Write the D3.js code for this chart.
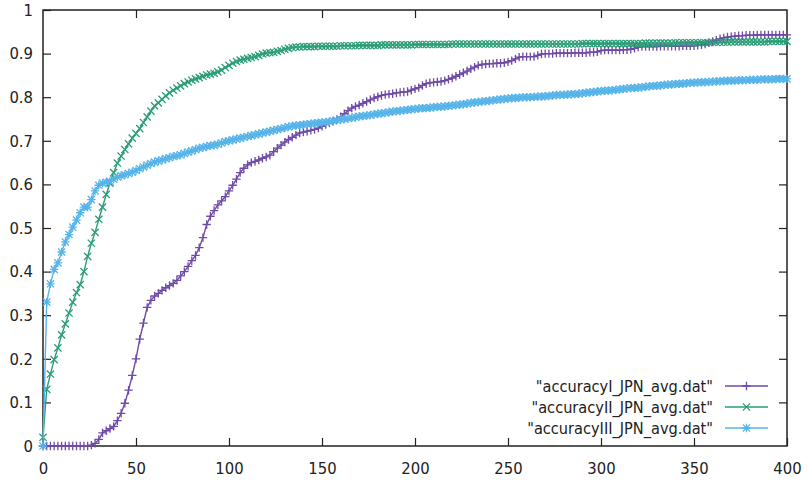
<!DOCTYPE html>
<html>
<head>
<meta charset="utf-8">
<script src="https://cdn.jsdelivr.net/npm/d3@7"></script>
<style>
body { margin: 0; background: #fff; }
svg { display: block; }
text { font-family: "DejaVu Sans Condensed", "DejaVu Sans", sans-serif; font-stretch: condensed; fill: #222; }
</style>
</head>
<body>
<div id="chart"></div>
<script>
var w = 808,
    h = 482;

// epochs sampled every 2 steps
var steps = d3.range(0, 401, 2);

var accI = [
  0, 0, 0, 0, 0, 0, 0, 0, 0, 0,
  0, 0, 0, 0.002, 0.006, 0.015, 0.03, 0.035, 0.04, 0.045,
  0.058, 0.075, 0.098, 0.128, 0.162, 0.2, 0.245, 0.282, 0.318, 0.334,
  0.344, 0.35, 0.357, 0.363, 0.368, 0.373, 0.38, 0.39, 0.4, 0.412,
  0.425, 0.437, 0.455, 0.478, 0.508, 0.527, 0.54, 0.553, 0.562, 0.572,
  0.585, 0.598, 0.612, 0.627, 0.637, 0.645, 0.65, 0.653, 0.656, 0.66,
  0.663, 0.667, 0.675, 0.683, 0.69, 0.697, 0.703, 0.708, 0.713, 0.718,
  0.72, 0.722, 0.724, 0.726, 0.729, 0.733, 0.737, 0.741, 0.745, 0.749,
  0.755, 0.762, 0.769, 0.775, 0.779, 0.782, 0.786, 0.79, 0.794, 0.798,
  0.801, 0.804, 0.806, 0.807, 0.808, 0.81, 0.811, 0.812, 0.813, 0.816,
  0.819, 0.822, 0.827, 0.831, 0.833, 0.834, 0.835, 0.836, 0.838, 0.841,
  0.844, 0.848, 0.852, 0.856, 0.86, 0.865, 0.869, 0.873, 0.875, 0.876,
  0.877, 0.877, 0.878, 0.878, 0.879, 0.881, 0.884, 0.888, 0.892, 0.893,
  0.893, 0.893, 0.893, 0.896, 0.899, 0.9, 0.9, 0.9, 0.901, 0.901,
  0.901, 0.901, 0.901, 0.902, 0.902, 0.902, 0.902, 0.903, 0.903, 0.904,
  0.907, 0.908, 0.908, 0.908, 0.908, 0.908, 0.909, 0.909, 0.91, 0.912,
  0.915, 0.916, 0.916, 0.916, 0.916, 0.916, 0.917, 0.917, 0.917, 0.917,
  0.917, 0.917, 0.918, 0.918, 0.918, 0.918, 0.919, 0.92, 0.922, 0.925,
  0.928, 0.931, 0.934, 0.936, 0.938, 0.939, 0.94, 0.941, 0.941, 0.942,
  0.942, 0.942, 0.943, 0.943, 0.943, 0.943, 0.943, 0.943, 0.943, 0.943,
  0.943
];

var accII = [
  0.02, 0.13, 0.165, 0.198, 0.225, 0.255, 0.28, 0.305, 0.33, 0.352,
  0.37, 0.4, 0.435, 0.465, 0.49, 0.52, 0.548, 0.577, 0.603, 0.627,
  0.649, 0.665, 0.68, 0.693, 0.706, 0.717, 0.728, 0.742, 0.755, 0.768,
  0.78, 0.787, 0.795, 0.803, 0.81, 0.816, 0.821, 0.826, 0.831, 0.835,
  0.839, 0.842, 0.845, 0.848, 0.851, 0.853, 0.855, 0.858, 0.862, 0.868,
  0.873, 0.878, 0.882, 0.885, 0.887, 0.889, 0.891, 0.893, 0.896, 0.899,
  0.901, 0.902, 0.903, 0.905, 0.907, 0.91, 0.912, 0.914, 0.915, 0.915,
  0.916, 0.916, 0.916, 0.916, 0.917, 0.917, 0.917, 0.917, 0.917, 0.917,
  0.918, 0.918, 0.918, 0.918, 0.918, 0.919, 0.919, 0.919, 0.919, 0.919,
  0.919, 0.92, 0.92, 0.92, 0.92, 0.92, 0.92, 0.92, 0.92, 0.92,
  0.921, 0.921, 0.921, 0.921, 0.921, 0.921, 0.921, 0.921, 0.921, 0.921,
  0.922, 0.922, 0.922, 0.922, 0.922, 0.922, 0.922, 0.922, 0.922, 0.922,
  0.922, 0.922, 0.922, 0.922, 0.922, 0.922, 0.922, 0.922, 0.922, 0.922,
  0.922, 0.922, 0.922, 0.922, 0.922, 0.922, 0.922, 0.922, 0.922, 0.922,
  0.922, 0.922, 0.922, 0.922, 0.922, 0.923, 0.923, 0.923, 0.923, 0.923,
  0.923, 0.923, 0.923, 0.923, 0.923, 0.923, 0.923, 0.923, 0.923, 0.923,
  0.923, 0.923, 0.924, 0.924, 0.924, 0.924, 0.924, 0.924, 0.924, 0.924,
  0.925, 0.925, 0.925, 0.925, 0.925, 0.925, 0.925, 0.925, 0.925, 0.925,
  0.926, 0.926, 0.926, 0.926, 0.926, 0.927, 0.927, 0.927, 0.927, 0.927,
  0.927, 0.927, 0.927, 0.927, 0.927, 0.928, 0.928, 0.928, 0.928, 0.928,
  0.928
];

var accIII = [
  0, 0.33, 0.372, 0.405, 0.42, 0.445, 0.468, 0.485, 0.502, 0.518,
  0.535, 0.548, 0.548, 0.565, 0.585, 0.598, 0.603, 0.605, 0.607, 0.612,
  0.617, 0.62, 0.622, 0.625, 0.628, 0.632, 0.636, 0.64, 0.644, 0.648,
  0.651, 0.654, 0.656, 0.659, 0.661, 0.664, 0.666, 0.668, 0.671, 0.674,
  0.677, 0.68, 0.683, 0.685, 0.687, 0.689, 0.69, 0.692, 0.695, 0.698,
  0.7, 0.702, 0.704, 0.706, 0.708, 0.71, 0.712, 0.714, 0.716, 0.718,
  0.72, 0.722, 0.724, 0.726, 0.728, 0.73, 0.732, 0.734, 0.735, 0.736,
  0.737, 0.738, 0.739, 0.74, 0.741, 0.742, 0.743, 0.744, 0.746, 0.747,
  0.749, 0.75, 0.751, 0.753, 0.754, 0.756, 0.757, 0.758, 0.759, 0.761,
  0.762, 0.763, 0.764, 0.766, 0.767, 0.768, 0.769, 0.77, 0.771, 0.772,
  0.773, 0.774, 0.775, 0.775, 0.776, 0.777, 0.778, 0.778, 0.779, 0.78,
  0.781, 0.782, 0.783, 0.784, 0.785, 0.787, 0.788, 0.789, 0.79, 0.791,
  0.792, 0.793, 0.794, 0.795, 0.796, 0.797, 0.798, 0.798, 0.799, 0.8,
  0.8, 0.8, 0.801, 0.801, 0.802, 0.802, 0.803, 0.804, 0.805, 0.805,
  0.806, 0.806, 0.807, 0.807, 0.808, 0.809, 0.81, 0.811, 0.812, 0.813,
  0.814, 0.815, 0.815, 0.816, 0.817, 0.818, 0.819, 0.82, 0.821, 0.821,
  0.822, 0.823, 0.824, 0.825, 0.826, 0.826, 0.827, 0.828, 0.829, 0.829,
  0.83, 0.831, 0.831, 0.832, 0.833, 0.833, 0.834, 0.834, 0.835, 0.835,
  0.836, 0.836, 0.837, 0.837, 0.838, 0.838, 0.838, 0.839, 0.839, 0.839,
  0.84, 0.84, 0.84, 0.841, 0.841, 0.841, 0.841, 0.842, 0.842, 0.842,
  0.842
];

var seriesNames = ['"accuracyI_JPN_avg.dat"', '"accuracyII_JPN_avg.dat"', '"accuracyIII_JPN_avg.dat"'];
var seriesColors = ["#6f4aa6", "#2a9d76", "#56b4e9"];
var xTicks = [0, 50, 100, 150, 200, 250, 300, 350, 400];
var yTicks = [0, 0.1, 0.2, 0.3, 0.4, 0.5, 0.6, 0.7, 0.8, 0.9, 1];

var padL = 43, padR = 787, padT = 10, padB = 446;

var svg = d3.select("#chart")
  .append("svg")
  .attr("width", w)
  .attr("height", h);

var x = d3.scaleLinear().domain([0, 400]).range([padL, padR]);
var y = d3.scaleLinear().domain([0, 1]).range([padB, padT]);

// axes: ticks point inward, mirrored on top and right
var fmt = function(d) { return String(+d.toFixed(1)); };

svg.append("g")
  .attr("transform", "translate(0," + padB + ")")
  .call(d3.axisBottom(x).tickValues(xTicks).tickSizeInner(-8).tickSizeOuter(0).tickPadding(16).tickFormat(fmt));
svg.append("g")
  .attr("transform", "translate(0," + padT + ")")
  .call(d3.axisTop(x).tickValues(xTicks.slice(1, -1)).tickSizeInner(-8).tickSizeOuter(0).tickFormat(""));
svg.append("g")
  .attr("transform", "translate(" + padL + ",0)")
  .call(d3.axisLeft(y).tickValues(yTicks).tickSizeInner(-8).tickSizeOuter(0).tickPadding(10).tickFormat(fmt));
svg.append("g")
  .attr("transform", "translate(" + padR + ",0)")
  .call(d3.axisRight(y).tickValues(yTicks.slice(1, -1)).tickSizeInner(-8).tickSizeOuter(0).tickFormat(""));

svg.selectAll(".domain").remove();
svg.selectAll(".tick line").attr("stroke", "#222").attr("stroke-width", 1.2);
svg.selectAll(".tick text").attr("font-size", "16.5px").attr("fill", "#222")
  .style("font-family", '"DejaVu Sans Condensed", "DejaVu Sans", sans-serif');

svg.append("rect")
  .attr("x", padL).attr("y", padT)
  .attr("width", padR - padL).attr("height", padB - padT)
  .attr("fill", "none").attr("stroke", "#222").attr("stroke-width", 1.5);

// point shapes like gnuplot: plus, cross, star
function marker(kind) {
  var p = 4.2, c = 3.6;
  var plus = "M" + (-p) + ",0H" + p + "M0," + (-p) + "V" + p;
  var cross = "M" + (-c) + "," + (-c) + "L" + c + "," + c + "M" + (-c) + "," + c + "L" + c + "," + (-c);
  if (kind == 0) return plus;
  if (kind == 1) return cross;
  return plus + cross;
}

var series = [accI, accII, accIII];
var line = d3.line()
  .x(function(d) { return x(d[0]); })
  .y(function(d) { return y(d[1]); });

series.forEach(function(vals, k) {
  var pts = steps.map(function(s, i) { return [s, vals[i]]; });
  var g = svg.append("g").attr("class", "series");
  g.append("path")
    .datum(pts)
    .attr("d", line)
    .attr("fill", "none")
    .attr("stroke", seriesColors[k])
    .attr("stroke-width", 1.4);
  g.selectAll(".pt")
    .data(pts)
    .enter()
    .append("path")
    .attr("class", "pt")
    .attr("transform", function(d) { return "translate(" + x(d[0]) + "," + y(d[1]) + ")"; })
    .attr("d", marker(k))
    .attr("fill", "none")
    .attr("stroke", seriesColors[k])
    .attr("stroke-width", 1.3);
});

// legend
var legend = svg.append("g").attr("transform", "translate(713,386)");
seriesNames.forEach(function(name, k) {
  var row = legend.append("g").attr("transform", "translate(0," + (k * 21) + ")");
  row.append("text")
    .attr("x", 0).attr("y", 0).attr("dy", "0.35em")
    .attr("text-anchor", "end")
    .attr("font-size", "16.2px")
    .text(name);
  row.append("line")
    .attr("x1", 12).attr("x2", 55).attr("y1", 0).attr("y2", 0)
    .attr("stroke", seriesColors[k]).attr("stroke-width", 1.4);
  row.append("path")
    .attr("transform", "translate(33.5,0)")
    .attr("d", marker(k))
    .attr("fill", "none")
    .attr("stroke", seriesColors[k])
    .attr("stroke-width", 1.3);
});
</script>
</body>
</html>
